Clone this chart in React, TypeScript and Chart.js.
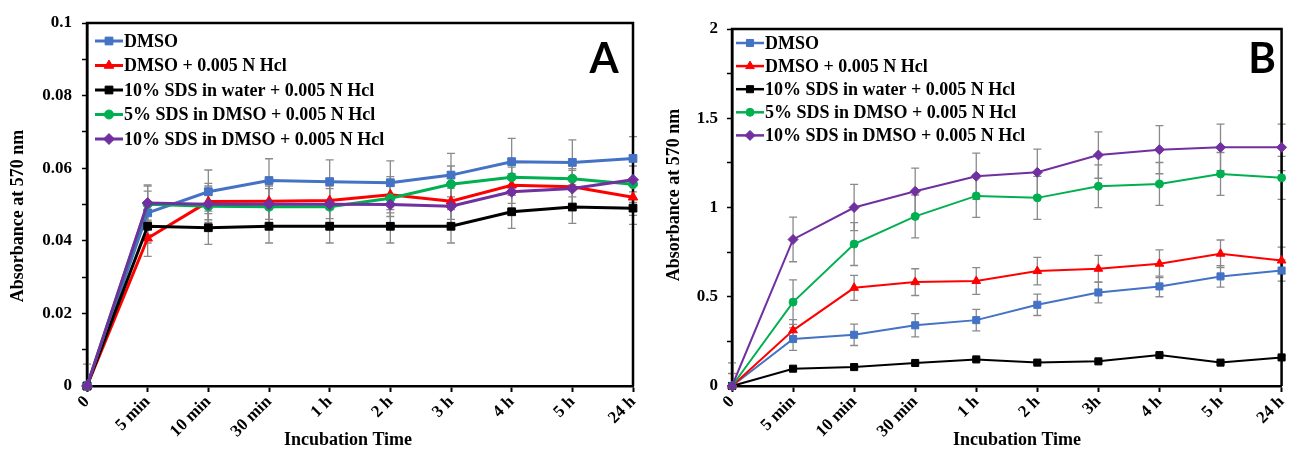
import React, { useEffect, useRef } from 'react';
import { Chart, registerables } from 'chart.js';

Chart.register(...registerables);

// ---------- data ----------
const labelsA = ['0', '5 min', '10 min', '30 min', '1 h', '2 h', '3 h', '4 h', '5 h', '24 h'];
const labelsB = ['0', '5 min', '10 min', '30 min', '1 h', '2 h', '3h', '4 h', '5 h', '24 h'];

const seriesNames = [
  'DMSO',
  'DMSO + 0.005 N Hcl',
  '10% SDS in water + 0.005 N Hcl',
  '5% SDS in DMSO + 0.005 N Hcl',
  '10% SDS in DMSO + 0.005 N Hcl',
];
const seriesColors = ['#4472C4', '#FF0000', '#000000', '#00B050', '#7030A0'];
const seriesMarkers = ['rect', 'triangle', 'rect', 'circle', 'rectRot'];

const xTitle = 'Incubation Time';
const yTitle = 'Absorbance at 570 nm';

// Panel A values
const dmsoA = [0, 0.0477, 0.0535, 0.0566, 0.0563, 0.056, 0.0581, 0.0618, 0.0616, 0.0627];
const dmsoHclA = [0, 0.0407, 0.0508, 0.0509, 0.0511, 0.0527, 0.0509, 0.0553, 0.0549, 0.052];
const sdsWaterA = [0, 0.044, 0.0436, 0.044, 0.044, 0.044, 0.044, 0.048, 0.0493, 0.049];
const sds5DmsoA = [0, 0.0501, 0.0495, 0.0494, 0.0494, 0.0517, 0.0556, 0.0575, 0.0571, 0.0556];
const sds10DmsoA = [0, 0.0504, 0.0501, 0.0501, 0.0501, 0.05, 0.0495, 0.0535, 0.0544, 0.0568];

// Panel A error bars
const dmsoErrA = [0.006, 0.006, 0.006, 0.006, 0.006, 0.006, 0.006, 0.0064, 0.0062, 0.006];
const dmsoHclErrA = [0, 0.005, 0.005, 0.005, 0.005, 0.005, 0.005, 0.005, 0.005, 0.005];
const sdsWaterErrA = [0, 0.0046, 0.0046, 0.0046, 0.0046, 0.0046, 0.0046, 0.0046, 0.0045, 0.0045];
const sds5DmsoErrA = [0, 0.005, 0.005, 0.005, 0.005, 0.005, 0.005, 0.005, 0.005, 0.005];
const sds10DmsoErrA = [0, 0.005, 0.005, 0.005, 0.005, 0.005, 0.005, 0.005, 0.005, 0.005];

// Panel B values
const dmsoB = [0, 0.263, 0.287, 0.34, 0.369, 0.455, 0.524, 0.558, 0.614, 0.647];
const dmsoHclB = [0, 0.312, 0.55, 0.582, 0.588, 0.644, 0.657, 0.685, 0.741, 0.703];
const sdsWaterB = [0, 0.097, 0.106, 0.129, 0.149, 0.131, 0.138, 0.173, 0.131, 0.16];
const sds5DmsoB = [0, 0.47, 0.795, 0.95, 1.065, 1.054, 1.119, 1.132, 1.188, 1.166];
const sds10DmsoB = [0, 0.821, 1.0, 1.091, 1.175, 1.197, 1.294, 1.324, 1.337, 1.337];

// Panel B error bars
const dmsoErrB = [0, 0.063, 0.06, 0.065, 0.06, 0.06, 0.058, 0.058, 0.06, 0.06];
const dmsoHclErrB = [0, 0.06, 0.07, 0.075, 0.075, 0.077, 0.075, 0.078, 0.077, 0.075];
const sdsWaterErrB = [0, 0.008, 0.008, 0.008, 0.008, 0.008, 0.008, 0.008, 0.008, 0.008];
const sds5DmsoErrB = [0.13, 0.125, 0.12, 0.12, 0.12, 0.12, 0.12, 0.12, 0.12, 0.12];
const sds10DmsoErrB = [0.07, 0.125, 0.13, 0.13, 0.13, 0.13, 0.13, 0.135, 0.13, 0.13];

const ticksA = { max: 0.1, step: 0.01 };
const ticksB = { max: 2, step: 0.25 };

// ---------- helpers ----------
const SERIF = '"Liberation Serif", "Times New Roman", serif';

function drawMarker(ctx: CanvasRenderingContext2D, style: string, x: number, y: number, r: number, color: string) {
  ctx.save();
  ctx.fillStyle = color;
  ctx.strokeStyle = color;
  ctx.lineWidth = 1;
  ctx.beginPath();
  if (style === 'rect') {
    const s = Math.SQRT1_2 * r;
    ctx.rect(x - s, y - s, 2 * s, 2 * s);
  } else if (style === 'triangle') {
    let rad = 0;
    ctx.moveTo(x + Math.sin(rad) * r, y - Math.cos(rad) * r);
    rad += (2 * Math.PI) / 3;
    ctx.lineTo(x + Math.sin(rad) * r, y - Math.cos(rad) * r);
    rad += (2 * Math.PI) / 3;
    ctx.lineTo(x + Math.sin(rad) * r, y - Math.cos(rad) * r);
    ctx.closePath();
  } else if (style === 'circle') {
    ctx.arc(x, y, r, 0, Math.PI * 2);
  } else {
    ctx.moveTo(x - r, y);
    ctx.lineTo(x, y - r);
    ctx.lineTo(x + r, y);
    ctx.lineTo(x, y + r);
    ctx.closePath();
  }
  ctx.fill();
  ctx.stroke();
  ctx.restore();
}

const panelPlugin = {
  id: 'panelDecor',
  beforeDatasetsDraw(chart: any) {
    const ctx = chart.ctx as CanvasRenderingContext2D;
    const { left, right, top, bottom } = chart.chartArea;
    const y = chart.scales.y;
    // error bars
    ctx.save();
    ctx.strokeStyle = '#8a8a8a';
    ctx.lineWidth = 1.3;
    chart.data.datasets.forEach((ds: any, di: number) => {
      const meta = chart.getDatasetMeta(di);
      (ds.errors || []).forEach((e: number, i: number) => {
        if (!e) return;
        const pt = meta.data[i];
        const v = ds.data[i];
        const y1 = y.getPixelForValue(v + e);
        const y2 = y.getPixelForValue(Math.max(0, v - e));
        ctx.beginPath();
        ctx.moveTo(pt.x, y1);
        ctx.lineTo(pt.x, y2);
        ctx.moveTo(pt.x - 4, y1);
        ctx.lineTo(pt.x + 4, y1);
        if (v - e > 0) {
          ctx.moveTo(pt.x - 4, y2);
          ctx.lineTo(pt.x + 4, y2);
        }
        ctx.stroke();
      });
    });
    ctx.restore();
    // top and right frame lines
    ctx.save();
    ctx.strokeStyle = '#000';
    ctx.lineWidth = 2.5;
    ctx.beginPath();
    ctx.moveTo(left, bottom);
    ctx.lineTo(left, top);
    ctx.lineTo(right, top);
    ctx.lineTo(right, bottom);
    ctx.stroke();
    ctx.restore();
  },
  afterDraw(chart: any) {
    const ctx = chart.ctx as CanvasRenderingContext2D;
    const o = chart.options.plugins.panelDecor;
    // axis titles
    ctx.save();
    ctx.fillStyle = '#000';
    ctx.font = `bold 18px ${SERIF}`;
    ctx.textAlign = 'center';
    ctx.textBaseline = 'middle';
    ctx.fillText(xTitle, o.xTitleX, o.xTitleY);
    ctx.translate(o.yTitleX, o.yTitleY);
    ctx.rotate(-Math.PI / 2);
    ctx.fillText(yTitle, 0, 0);
    ctx.restore();
    // legend
    chart.data.datasets.forEach((ds: any, i: number) => {
      const yy = o.legendY + i * o.legendStep;
      ctx.save();
      ctx.strokeStyle = ds.borderColor;
      ctx.lineWidth = o.legendLineW;
      ctx.beginPath();
      ctx.moveTo(o.legendX, yy);
      ctx.lineTo(o.legendX + 28, yy);
      ctx.stroke();
      ctx.restore();
      drawMarker(ctx, ds.pointStyle, o.legendX + 14, yy, ds.pointRadius, ds.borderColor);
      ctx.save();
      ctx.fillStyle = '#000';
      ctx.font = `bold 18px ${SERIF}`;
      ctx.textBaseline = 'middle';
      ctx.textAlign = 'left';
      ctx.fillText(ds.label, o.legendX + 29, yy + 1);
      ctx.restore();
    });
    // panel letter
    ctx.save();
    ctx.fillStyle = '#000';
    ctx.font = 'bold 42px Lato, "Liberation Sans", sans-serif';
    ctx.textAlign = 'center';
    ctx.textBaseline = 'alphabetic';
    ctx.fillText(o.letter, o.letterX, o.letterY);
    ctx.restore();
  },
};

function buildConfig(
  labels: string[],
  values: number[][],
  errors: number[][],
  tk: { max: number; step: number },
  p: any
) {
  const datasets = values.map((vals, i) => ({
    label: seriesNames[i],
    data: vals,
    errors: errors[i],
    borderColor: seriesColors[i],
    backgroundColor: seriesColors[i],
    pointBackgroundColor: seriesColors[i],
    pointBorderColor: seriesColors[i],
    pointStyle: seriesMarkers[i],
    pointRadius: seriesMarkers[i] === 'circle' ? p.markerR - 1 : p.markerR,
    pointBorderWidth: 1,
    borderWidth: p.lineW,
    tension: 0,
    clip: false as any,
    order: values.length - i,
  }));
  const fmt = (v: number) => String(Number(v.toFixed(2)));
  return {
    type: 'line' as const,
    data: { labels, datasets },
    plugins: [panelPlugin],
    options: {
      animation: false,
      responsive: false,
      devicePixelRatio: 1,
      layout: { padding: { left: 0, top: p.top, right: p.right, bottom: 0 } },
      plugins: {
        legend: { display: false },
        tooltip: { enabled: false },
        panelDecor: p.decor,
      },
      scales: {
        x: {
          grid: { display: true, drawOnChartArea: false, drawTicks: true, tickLength: 6, tickColor: '#000', tickWidth: 2 },
          border: { display: true, color: '#000', width: 2.5 },
          ticks: {
            color: '#000',
            font: { family: SERIF, weight: 'bold', size: 17 },
            maxRotation: 45,
            minRotation: 45,
            autoSkip: false,
            padding: 0,
          },
          afterFit: (s: any) => {
            s.height = 449 - p.bottomY;
          },
        },
        y: {
          min: 0,
          max: tk.max,
          grid: { display: true, drawOnChartArea: false, drawTicks: true, tickLength: 5, tickColor: '#000', tickWidth: 1.5 },
          border: { display: true, color: '#000', width: 2.5 },
          ticks: {
            stepSize: tk.step,
            color: '#000',
            font: { family: SERIF, weight: 'bold', size: 17 },
            padding: p.yTickPad,
            callback: (v: any, i: number) => (i % 2 === 0 ? fmt(Number(v)) : ''),
          },
          afterFit: (s: any) => {
            s.width = p.leftX;
          },
        },
      },
    },
  };
}

function Panel({ cfg }: { cfg: any }) {
  const ref = useRef<HTMLCanvasElement | null>(null);
  useEffect(() => {
    if (!ref.current) return;
    const chart = new Chart(ref.current, cfg);
    return () => chart.destroy();
  }, [cfg]);
  return <canvas ref={ref} width={648} height={449} style={{ display: 'block', width: 648, height: 449 }} />;
}

const cfgA = buildConfig(
  labelsA,
  [dmsoA, dmsoHclA, sdsWaterA, sds5DmsoA, sds10DmsoA],
  [dmsoErrA, dmsoHclErrA, sdsWaterErrA, sds5DmsoErrA, sds10DmsoErrA],
  ticksA,
  {
    top: 23,
    right: 648 - 633,
    bottomY: 386,
    leftX: 87,
    yTickPad: 10,
    lineW: 3,
    markerR: 5.5,
    decor: {
      letter: 'A', letterX: 604, letterY: 73,
      legendX: 95, legendY: 41, legendStep: 24.5, legendLineW: 3,
      xTitleX: 348, xTitleY: 440, yTitleX: 18, yTitleY: 216,
    },
  }
);

const cfgB = buildConfig(
  labelsB,
  [dmsoB, dmsoHclB, sdsWaterB, sds5DmsoB, sds10DmsoB],
  [dmsoErrB, dmsoHclErrB, sdsWaterErrB, sds5DmsoErrB, sds10DmsoErrB],
  ticksB,
  {
    top: 29,
    right: 648 - 641,
    bottomY: 386,
    leftX: 84,
    yTickPad: 9,
    lineW: 2,
    markerR: 5,
    decor: {
      letter: 'B', letterX: 614, letterY: 73,
      legendX: 88, legendY: 43, legendStep: 23.1, legendLineW: 2.5,
      xTitleX: 369, xTitleY: 440, yTitleX: 26, yTitleY: 195,
    },
  }
);

export default function App() {
  return (
    <div style={{ position: 'absolute', left: 0, top: 0, width: 1296, height: 449, display: 'flex', background: '#fff' }}>
      <Panel cfg={cfgA} />
      <Panel cfg={cfgB} />
    </div>
  );
}
